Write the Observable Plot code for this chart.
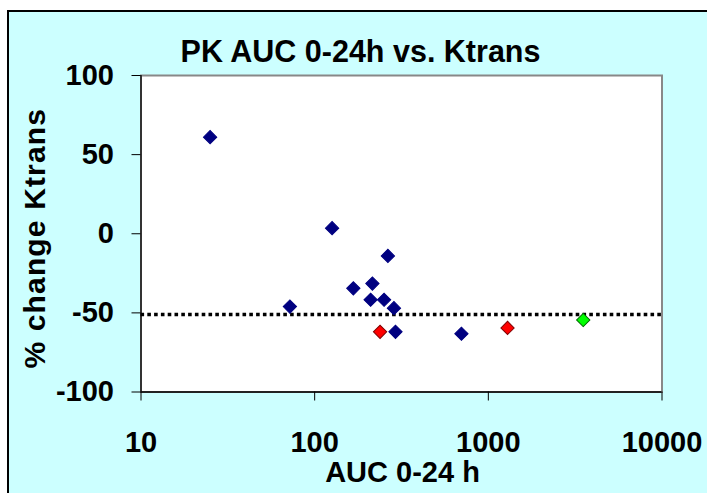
<!DOCTYPE html>
<html>
<head>
<meta charset="utf-8">
<script src="https://cdn.jsdelivr.net/npm/d3@7"></script>
<script src="https://cdn.jsdelivr.net/npm/@observablehq/plot@0.6"></script>
<style>
  html, body { margin: 0; padding: 0; background: white; overflow: hidden; }
  #wrap { position: relative; width: 707px; height: 493px; overflow: hidden; }
  #bg { position: absolute; left: 7px; top: 10px; width: 800px; height: 600px;
        background: #ccffff; border: 2px solid black; }
  #chart { position: absolute; left: 0; top: 0; }
</style>
</head>
<body>
<div id="wrap"><div id="bg"></div><div id="chart"></div></div>
<script>
// ---- data ----
const auc     = [25, 72, 126, 167, 215, 210, 264, 251, 286, 292, 238, 700, 1290, 3520];
const ktrans  = [61, -46, 3.5, -34.5, -31.5, -41.7, -14, -41.7, -47, -62, -62, -63.2, -59.5, -54.5];
const group   = ["A","A","A","A","A","A","A","A","A","A","B","A","B","C"];
const groups  = ["A", "B", "C"];
const threshold = [-51];
const xTicks  = [10, 100, 1000, 10000];
const yTicks  = [-100, -50, 0, 50, 100];
const title   = ["PK AUC 0-24h vs. Ktrans"];
const xLabel  = ["AUC 0-24 h"];
const yLabel  = ["% change Ktrans"];

const fills   = ["#000080", "#ff0000", "#00ff00"];
const strokes = {A: "#000080", B: "#800000", C: "#006600"};

const data = auc.map((a, i) => ({auc: a, ktrans: ktrans[i], group: group[i]}));

const chart = Plot.plot({
  width: 707,
  height: 493,
  marginLeft: 140.5,
  marginRight: 45.5,
  marginTop: 75,
  marginBottom: 101.5,
  style: {background: "transparent", fontFamily: "'Liberation Sans', Arial, sans-serif",
          fontWeight: "bold", fontSize: "29px", color: "black"},
  x: {type: "log", domain: [10, 10000]},
  y: {domain: [-100, 100]},
  color: {domain: groups, range: fills},
  marks: [
    Plot.frame({fill: "white", stroke: "#888888", strokeWidth: 2}),
    Plot.ruleX([10], {stroke: "#333333", strokeWidth: 2}),
    Plot.ruleY([-100], {stroke: "black", strokeWidth: 1.5}),
    Plot.axisY({ticks: yTicks, tickSize: 9, tickPadding: 18, label: null,
                tickFormat: d => String(d), fontSize: 29, stroke: "black"}),
    Plot.axisX({ticks: xTicks, tickSize: 9, tickPadding: 30, label: null,
                tickFormat: d => String(d), fontSize: 29, stroke: "black"}),
    Plot.ruleY(threshold, {stroke: "black", strokeWidth: 3.5, strokeDasharray: "3.6,3.2"}),
    Plot.dot(data, {x: "auc", y: "ktrans", symbol: "square", rotate: 45, r: 5.3,
                    fill: "group", stroke: d => strokes[d.group], strokeWidth: 1}),
    Plot.text(title, {frameAnchor: "top", lineAnchor: "bottom", textAnchor: "middle",
                      dx: -41, dy: -14, fontSize: 30.5, text: d => d}),
    Plot.text(xLabel, {frameAnchor: "bottom", lineAnchor: "bottom", textAnchor: "middle",
                       dx: 1, dy: 90, fontSize: 29, text: d => d}),
    Plot.text(yLabel, {frameAnchor: "left", lineAnchor: "bottom", textAnchor: "middle",
                       rotate: -90, dx: -96.5, dy: 4.5, fontSize: 30, text: d => d})
  ]
});
document.getElementById("chart").appendChild(chart);

// widen the y label's letter spacing to the reference's length
d3.select(chart).selectAll("text").filter(function () {
  return this.textContent === yLabel[0];
}).style("letter-spacing", "1.15px");
</script>
</body>
</html>
